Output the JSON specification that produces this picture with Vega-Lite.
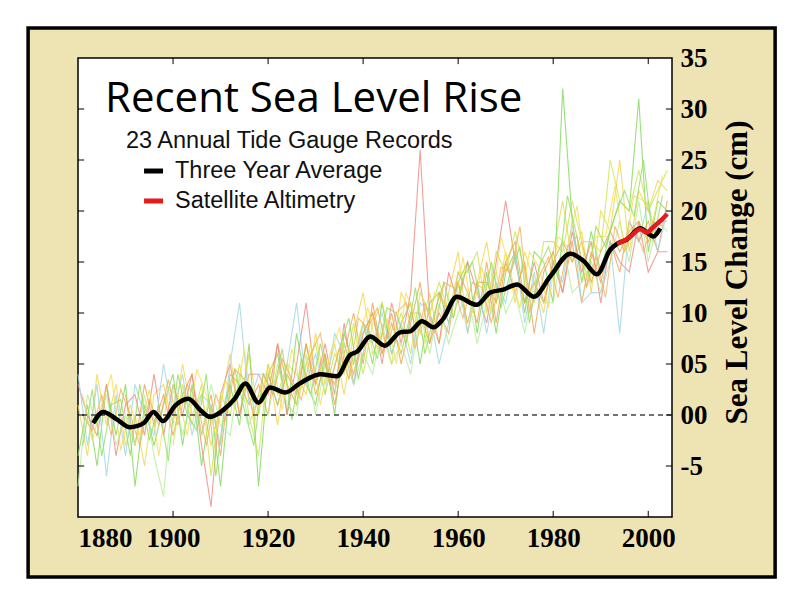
{
  "$schema": "https://vega.github.io/schema/vega-lite/v6.json",
  "width": 594,
  "height": 459,
  "autosize": "none",
  "padding": {"left": 78, "top": 58, "right": 128, "bottom": 83},
  "background": "white",
  "config": {
    "view": {"stroke": null},
    "axis": {"grid": false, "domain": false, "labelFont": "Liberation Serif", "labelFontWeight": "bold", "labelFontSize": 27, "labelColor": "black", "tickColor": "black", "tickOpacity": 0, "titleFont": "Liberation Serif", "titleFontWeight": "bold", "titleFontSize": 31, "titleColor": "black"}
  },
  "datasets": {
    "gauges": [
      {"t":1880,"a":1,"b":-4,"d":3,"e":4,"h":-7},
      {"t":1882,"a":-4,"b":1,"d":0,"e":-3,"h":2},
      {"t":1884,"a":4,"b":-5,"d":-2,"e":3,"h":-1},
      {"t":1886,"a":-1,"b":3,"d":3,"e":-6,"h":2},
      {"t":1888,"a":3,"b":-2,"d":-4,"e":2,"h":-3},
      {"t":1890,"a":-3,"b":3,"c":2,"d":1,"e":-4,"h":0},
      {"t":1892,"a":0,"b":-7,"c":-3,"d":2,"e":3,"h":-3},
      {"t":1894,"a":-5,"b":1,"c":3,"d":-2,"e":0,"h":2},
      {"t":1896,"a":2,"b":-3,"c":-1,"d":4,"e":-2,"h":-4},
      {"t":1898,"a":3,"b":1,"c":2,"d":-2,"e":5,"h":-8},
      {"t":1900,"a":-1,"b":4,"c":-2,"d":3,"e":0,"f":-3,"h":3},
      {"t":1902,"a":5,"b":-3,"c":2,"d":0,"e":4,"f":3,"h":-2},
      {"t":1904,"a":0,"b":3,"c":4,"d":4,"e":-2,"f":-1,"h":2},
      {"t":1906,"a":2,"b":-5,"c":-2,"d":-3,"e":2,"f":3,"h":-2},
      {"t":1908,"a":-3,"b":1,"c":2,"d":-9,"e":1,"f":-6,"h":3},
      {"t":1910,"a":1,"b":-7,"c":-4,"d":2,"e":-3,"f":2,"h":-1},
      {"t":1912,"a":6,"b":3,"c":4,"d":5,"e":5,"f":0,"h":-2},
      {"t":1914,"a":0,"b":-1,"c":3,"d":0,"e":11,"f":5,"h":4},
      {"t":1916,"a":6,"b":7,"c":1,"d":4,"e":1,"f":0,"h":-1},
      {"t":1918,"a":0,"b":-7,"c":3,"d":4,"e":4,"f":-4,"h":2},
      {"t":1920,"a":5,"b":4,"c":0,"d":2,"e":4,"f":5,"g":4,"h":0},
      {"t":1922,"a":-1,"b":6,"c":7,"d":7,"e":1,"f":2,"g":1,"h":5},
      {"t":1924,"a":5,"b":0,"c":3,"d":0,"e":5,"f":5,"g":4,"h":1},
      {"t":1926,"a":4,"b":8,"c":1,"d":5,"e":11,"f":1,"g":2,"h":0},
      {"t":1928,"a":2,"b":3,"c":7,"d":11,"e":3,"f":5,"g":7,"h":6},
      {"t":1930,"a":8,"b":1,"c":3,"d":3,"e":6,"f":7,"g":2,"h":0},
      {"t":1932,"a":3,"b":6,"c":6,"d":7,"e":2,"f":2,"g":5,"h":5},
      {"t":1934,"a":7,"b":0,"c":1,"d":2,"e":8,"f":6,"g":3,"h":2},
      {"t":1936,"a":2,"b":8,"c":6,"d":9,"e":6,"f":4,"g":7,"h":7},
      {"t":1938,"a":8,"b":5,"c":10,"d":3,"e":3,"f":9,"g":4,"h":3},
      {"t":1940,"a":12,"b":9,"c":5,"d":8,"e":9,"f":4,"g":8,"h":6},
      {"t":1942,"a":6,"b":5,"c":11,"d":10,"e":7,"f":9,"g":10,"h":4},
      {"t":1944,"a":8,"b":11,"c":6,"d":5,"e":10,"f":11,"g":6,"h":9},
      {"t":1946,"a":5,"b":6,"c":10,"d":11,"e":6,"f":7,"g":9,"h":5},
      {"t":1948,"a":12,"b":9,"c":5,"d":7,"e":9,"f":10,"g":6,"h":7},
      {"t":1950,"a":10,"b":11,"c":9,"d":12,"e":5,"f":6,"g":10,"h":4},
      {"t":1952,"a":8,"b":5,"c":13,"d":26,"e":11,"f":12,"g":10,"h":10},
      {"t":1954,"a":12,"b":11,"c":7,"d":10,"e":10,"f":10,"g":7,"h":6},
      {"t":1956,"a":7,"b":12,"c":10,"d":7,"e":5,"f":13,"g":12,"h":11},
      {"t":1958,"a":12,"b":9,"c":8,"d":14,"e":9,"f":10,"g":10,"h":7},
      {"t":1960,"a":16,"b":13,"c":14,"d":11,"e":13,"f":14,"g":13,"h":10},
      {"t":1962,"a":8,"b":15,"c":12,"d":15,"e":8,"f":14,"g":9,"h":12},
      {"t":1964,"a":13,"b":8,"c":9,"d":12,"e":13,"f":16,"g":13,"h":7},
      {"t":1966,"a":17,"b":14,"c":15,"d":9,"e":8,"f":10,"g":13,"h":11},
      {"t":1968,"a":11,"b":8,"c":9,"d":15,"e":13,"f":16,"g":11,"h":14},
      {"t":1970,"a":16,"b":14,"c":15,"d":21,"e":11,"f":14,"g":15,"h":10},
      {"t":1972,"a":11,"b":16,"c":12,"d":15,"e":16,"f":18,"g":17,"h":12},
      {"t":1974,"a":16,"b":10,"c":15,"d":11,"e":9,"f":14,"g":11,"h":8},
      {"t":1976,"a":13,"b":16,"c":8,"d":15,"e":14,"f":11,"g":13,"h":13},
      {"t":1978,"a":10,"b":15,"c":14,"d":11,"e":8,"f":17,"g":11,"h":11},
      {"t":1980,"a":16,"b":11,"c":16,"d":15,"e":15,"f":17,"g":15,"h":11},
      {"t":1982,"a":21,"b":32,"c":12,"d":12,"e":13,"f":16,"g":17,"h":17},
      {"t":1984,"a":15,"b":19,"c":17,"d":18,"e":19,"f":21,"g":15,"h":12},
      {"t":1986,"a":18,"b":13,"c":11,"d":14,"e":11,"f":17,"g":17,"h":13},
      {"t":1988,"a":12,"b":18,"c":16,"d":17,"e":12,"f":17,"g":13,"h":15},
      {"t":1990,"a":20,"b":14,"c":13,"d":11,"e":12,"f":16,"g":16,"h":12},
      {"t":1992,"a":18,"b":18,"c":17,"d":17,"e":17,"f":25,"g":18,"h":15},
      {"t":1994,"a":25,"b":21,"c":14,"d":15,"e":8,"f":21,"g":16,"h":19},
      {"t":1996,"a":16,"b":20,"c":19,"d":14,"e":19,"f":20,"g":18,"h":15},
      {"t":1998,"a":22,"b":31,"c":17,"d":19,"e":17,"f":24,"g":19,"h":21},
      {"t":2000,"a":20,"b":16,"c":19,"d":14,"e":21,"f":20,"g":17,"h":15},
      {"t":2002,"a":23,"b":21,"c":16,"d":16,"e":16,"f":22,"g":19,"h":19},
      {"t":2004,"a":22,"b":20,"c":21,"d":16,"e":20,"f":24,"g":19,"h":18}
    ],
    "gauges2": [
      {"t":1881,"i":2,"j":-3,"k":0},{"t":1883,"i":-2.5,"j":2.5,"k":-1.5},{"t":1885,"i":1,"j":-4,"k":2},
      {"t":1887,"i":4,"j":1,"k":-2},{"t":1889,"i":-3.5,"j":1.5,"k":2.5},{"t":1891,"i":1,"j":-4,"k":0},
      {"t":1893,"i":-2,"j":3,"k":-3},{"t":1895,"i":2.5,"j":-2.5,"k":1.5},{"t":1897,"i":-4,"j":1,"k":-1},
      {"t":1899,"i":2.5,"j":-4.5,"k":3.5},{"t":1901,"i":2,"j":4,"k":-1},{"t":1903,"i":-2,"j":0,"k":3},
      {"t":1905,"i":4.5,"j":-1.5,"k":1.5},{"t":1907,"i":2,"j":4,"k":-3},{"t":1909,"i":-2,"j":-6,"k":2},
      {"t":1911,"i":3.5,"j":1.5,"k":-0.5},{"t":1913,"i":0.5,"j":4.5,"k":4.5},{"t":1915,"i":6.5,"j":0.5,"k":3.5},
      {"t":1917,"i":-1,"j":-3,"k":0},{"t":1919,"i":3,"j":4,"k":4},{"t":1921,"i":5,"j":2,"k":2},
      {"t":1923,"i":0.5,"j":6.5,"k":5.5},{"t":1925,"i":6.5,"j":-0.5,"k":3.5},{"t":1927,"i":2.5,"j":5.5,"k":1.5},
      {"t":1929,"i":7,"j":2,"k":6},{"t":1931,"i":1,"j":7,"k":8},{"t":1933,"i":6,"j":3,"k":3},
      {"t":1935,"i":8.5,"j":6.5,"k":6.5},{"t":1937,"i":3.5,"j":9.5,"k":3.5},{"t":1939,"i":7.5,"j":3.5,"k":9.5},
      {"t":1941,"i":10.5,"j":8.5,"k":8.5},{"t":1943,"i":6.5,"j":5.5,"k":10.5},{"t":1945,"i":9.5,"j":10.5,"k":6.5},
      {"t":1947,"i":5,"j":10,"k":10},{"t":1949,"i":12,"j":7,"k":11},{"t":1951,"i":9.5,"j":12.5,"k":6.5},
      {"t":1953,"i":7,"j":6,"k":11},{"t":1955,"i":12,"j":10,"k":8},{"t":1957,"i":11,"j":13,"k":13},
      {"t":1959,"i":9.5,"j":9.5,"k":12.5},{"t":1961,"i":15.5,"j":13.5,"k":9.5},{"t":1963,"i":10,"j":15,"k":13},
      {"t":1965,"i":14.5,"j":10.5,"k":12.5},{"t":1967,"i":10,"j":15,"k":9},{"t":1969,"i":17.5,"j":10.5,"k":14.5},
      {"t":1971,"i":14,"j":14,"k":14},{"t":1973,"i":10.5,"j":16.5,"k":18.5},{"t":1975,"i":16,"j":9,"k":10},
      {"t":1977,"i":14.5,"j":14.5,"k":13.5},{"t":1979,"i":10.5,"j":16.5,"k":15.5},{"t":1981,"i":17.5,"j":13.5,"k":11.5},
      {"t":1983,"i":16.5,"j":21.5,"k":16.5},{"t":1985,"i":20.5,"j":17.5,"k":17.5},{"t":1987,"i":13.5,"j":12.5,"k":12.5},
      {"t":1989,"i":17.5,"j":18.5,"k":15.5},{"t":1991,"i":17.5,"j":16.5,"k":11.5},{"t":1993,"i":22.5,"j":19.5,"k":18.5},
      {"t":1995,"i":16,"j":22,"k":16},{"t":1997,"i":21.5,"j":19.5,"k":18.5},{"t":1999,"i":21,"j":25,"k":16},
      {"t":2001,"i":19,"j":17,"k":19},{"t":2003,"i":23.5,"j":21.5,"k":18.5}
    ],
    "avg": [
      {"t":1883.2,"v":-0.8},{"t":1885.3,"v":0.3},{"t":1888.1,"v":-0.4},{"t":1890.9,"v":-1.2},
      {"t":1893.8,"v":-0.8},{"t":1895.9,"v":0.3},{"t":1897.9,"v":-0.6},{"t":1900.4,"v":0.9},
      {"t":1903.2,"v":1.6},{"t":1905.7,"v":0.5},{"t":1907.8,"v":-0.2},{"t":1910.6,"v":0.5},
      {"t":1913,"v":1.6},{"t":1915.2,"v":3.1},{"t":1918,"v":1.2},{"t":1920.4,"v":2.7},
      {"t":1923.6,"v":2.2},{"t":1926.7,"v":3.1},{"t":1931,"v":4.0},{"t":1934.5,"v":3.8},
      {"t":1937.3,"v":5.9},{"t":1938.7,"v":6.2},{"t":1941.5,"v":7.7},{"t":1944.6,"v":6.8},
      {"t":1947.8,"v":8.1},{"t":1949.9,"v":8.2},{"t":1952.4,"v":9.2},{"t":1954.8,"v":8.6},
      {"t":1956.8,"v":9.4},{"t":1959.7,"v":11.6},{"t":1963.9,"v":10.8},{"t":1966.7,"v":12.0},
      {"t":1969.5,"v":12.3},{"t":1972.4,"v":12.8},{"t":1975.9,"v":11.6},{"t":1979.4,"v":13.6},
      {"t":1983.6,"v":15.8},{"t":1986.4,"v":15.1},{"t":1989.2,"v":13.8},{"t":1992,"v":16.2},
      {"t":1993.5,"v":16.8},{"t":1995.5,"v":17.2},{"t":1998.3,"v":18.3},{"t":2001.1,"v":17.5},
      {"t":2002.5,"v":18.3}
    ],
    "sat": [
      {"t":1993.4,"v":16.8},{"t":1995,"v":17.1},{"t":1996.5,"v":17.6},{"t":1998.3,"v":18.2},
      {"t":1999.7,"v":17.9},{"t":2001,"v":18.4},{"t":2002.5,"v":19.0},{"t":2004,"v":19.7}
    ],
    "xt": [{"t":1900},{"t":1920},{"t":1940},{"t":1960},{"t":1980},{"t":2000}],
    "yt": [{"v":-5},{"v":0},{"v":5},{"v":10},{"v":15},{"v":20},{"v":25},{"v":30}]
  },
  "layer": [
    {
      "data": {"values": [{}]},
      "mark": {"type": "rect", "fill": "#eee3b3", "stroke": "black", "strokeWidth": 3.5},
      "encoding": {
        "x": {"datum": 1869.5, "type": "quantitative", "scale": {"domain": [1880, 2005], "nice": false, "zero": false},
              "axis": {"orient": "bottom", "zindex": 2, "values": [1880, 1900, 1920, 1940, 1960, 1980, 2000], "format": "d", "tickSize": -6, "labelPadding": 14, "title": null}},
        "x2": {"datum": 2026.7},
        "y": {"datum": 37.94, "type": "quantitative", "scale": {"domain": [-10, 35], "nice": false, "zero": false},
              "axis": {"orient": "right", "zindex": 2, "values": [-5, 0, 5, 10, 15, 20, 25, 30, 35], "tickSize": -6, "labelPadding": 14,
                       "labelExpr": "datum.value == 0 ? '00' : datum.value == 5 ? '05' : datum.value == -5 ? '-5' : datum.label",
                       "title": "Sea Level Change (cm)", "titleAngle": 270, "titleX": 65, "titleY": 214, "titleAlign": "center", "titleBaseline": "middle"}},
        "y2": {"datum": -15.88}
      }
    },
    {
      "data": {"values": [{}]},
      "mark": {"type": "rect", "fill": "white", "stroke": "black", "strokeWidth": 1.5},
      "encoding": {
        "x": {"datum": 1880, "type": "quantitative", "axis": {"orient": "bottom"}},
        "x2": {"datum": 2005},
        "y": {"datum": 35, "type": "quantitative", "axis": {"orient": "right"}},
        "y2": {"datum": -10}
      }
    },
    {
      "data": {"name": "gauges"},
      "transform": [{"fold": ["a", "b", "c", "d", "e", "f", "g", "h"], "as": ["k", "v"]}],
      "mark": {"type": "line", "strokeWidth": 1.1, "opacity": 0.8},
      "encoding": {
        "x": {"field": "t", "type": "quantitative", "axis": {"orient": "bottom"}},
        "y": {"field": "v", "type": "quantitative", "axis": {"orient": "right"}},
        "color": {"field": "k", "type": "nominal", "legend": null,
                  "scale": {"domain": ["a", "b", "c", "d", "e", "f", "g", "h", "i", "j", "k"],
                            "range": ["#f2d54a", "#7ed957", "#f0a050", "#ec8a80", "#9fd4e6", "#cde34a", "#e0b040", "#b5ec9a", "#f5e050", "#90dd60", "#f2b060"]}}
      }
    },
    {
      "data": {"name": "gauges2"},
      "transform": [{"fold": ["i", "j", "k"], "as": ["k", "v"]}],
      "mark": {"type": "line", "strokeWidth": 1.1, "opacity": 0.8},
      "encoding": {
        "x": {"field": "t", "type": "quantitative", "axis": {"orient": "bottom"}},
        "y": {"field": "v", "type": "quantitative", "axis": {"orient": "right"}},
        "color": {"field": "k", "type": "nominal", "legend": null}
      }
    },
    {
      "data": {"values": [{}]},
      "mark": {"type": "rule", "color": "#444444", "strokeWidth": 1.5, "strokeDash": [5, 4]},
      "encoding": {"y": {"datum": 0, "type": "quantitative", "axis": {"orient": "right"}}}
    },
    {
      "data": {"name": "xt"},
      "mark": {"type": "rule", "color": "black", "strokeWidth": 1},
      "encoding": {
        "x": {"field": "t", "type": "quantitative", "axis": {"orient": "bottom"}},
        "y": {"datum": -10, "type": "quantitative", "axis": {"orient": "right"}},
        "y2": {"datum": -9.4}
      }
    },
    {
      "data": {"name": "xt"},
      "mark": {"type": "rule", "color": "black", "strokeWidth": 1},
      "encoding": {
        "x": {"field": "t", "type": "quantitative", "axis": {"orient": "bottom"}},
        "y": {"datum": 35, "type": "quantitative", "axis": {"orient": "right"}},
        "y2": {"datum": 34.4}
      }
    },
    {
      "data": {"name": "yt"},
      "mark": {"type": "rule", "color": "black", "strokeWidth": 1},
      "encoding": {
        "y": {"field": "v", "type": "quantitative", "axis": {"orient": "right"}},
        "x": {"datum": 1880, "type": "quantitative", "axis": {"orient": "bottom"}},
        "x2": {"datum": 1881.3}
      }
    },
    {
      "data": {"name": "yt"},
      "mark": {"type": "rule", "color": "black", "strokeWidth": 1},
      "encoding": {
        "y": {"field": "v", "type": "quantitative", "axis": {"orient": "right"}},
        "x": {"datum": 2005, "type": "quantitative", "axis": {"orient": "bottom"}},
        "x2": {"datum": 2003.7}
      }
    },
    {
      "data": {"name": "avg"},
      "mark": {"type": "line", "color": "black", "strokeWidth": 4.5, "interpolate": "monotone"},
      "encoding": {
        "x": {"field": "t", "type": "quantitative", "axis": {"orient": "bottom"}},
        "y": {"field": "v", "type": "quantitative", "axis": {"orient": "right"}}
      }
    },
    {
      "data": {"name": "sat"},
      "mark": {"type": "line", "color": "#e41a1c", "strokeWidth": 4.5, "interpolate": "monotone"},
      "encoding": {
        "x": {"field": "t", "type": "quantitative", "axis": {"orient": "bottom"}},
        "y": {"field": "v", "type": "quantitative", "axis": {"orient": "right"}}
      }
    },
    {
      "data": {"values": [{"x": 1893.9, "x2": 1897.9, "y": 23.92, "c": "black"}, {"x": 1893.9, "x2": 1897.9, "y": 20.98, "c": "#e41a1c"}]},
      "mark": {"type": "rule", "strokeWidth": 5},
      "encoding": {
        "x": {"field": "x", "type": "quantitative", "axis": {"orient": "bottom"}},
        "x2": {"field": "x2"},
        "y": {"field": "y", "type": "quantitative", "axis": {"orient": "right"}},
        "color": {"field": "c", "type": "nominal", "scale": null}
      }
    },
    {
      "data": {"values": [{"x": 1885.68, "y": 29.71, "label": "Recent Sea Level Rise"}]},
      "mark": {"type": "text", "align": "left", "baseline": "alphabetic", "font": "Open Sans", "fontSize": 42, "color": "black"},
      "encoding": {
        "x": {"field": "x", "type": "quantitative", "axis": {"orient": "bottom"}},
        "y": {"field": "y", "type": "quantitative", "axis": {"orient": "right"}},
        "text": {"field": "label"}
      }
    },
    {
      "data": {"values": [
        {"x": 1890.1, "y": 26.18, "label": "23 Annual Tide Gauge Records"},
        {"x": 1900.41, "y": 23.24, "label": "Three Year Average"},
        {"x": 1900.41, "y": 20.29, "label": "Satellite Altimetry"}
      ]},
      "mark": {"type": "text", "align": "left", "baseline": "alphabetic", "font": "Liberation Sans", "fontSize": 23.5, "color": "#111111"},
      "encoding": {
        "x": {"field": "x", "type": "quantitative", "axis": {"orient": "bottom"}},
        "y": {"field": "y", "type": "quantitative", "axis": {"orient": "right"}},
        "text": {"field": "label"}
      }
    }
  ]
}
